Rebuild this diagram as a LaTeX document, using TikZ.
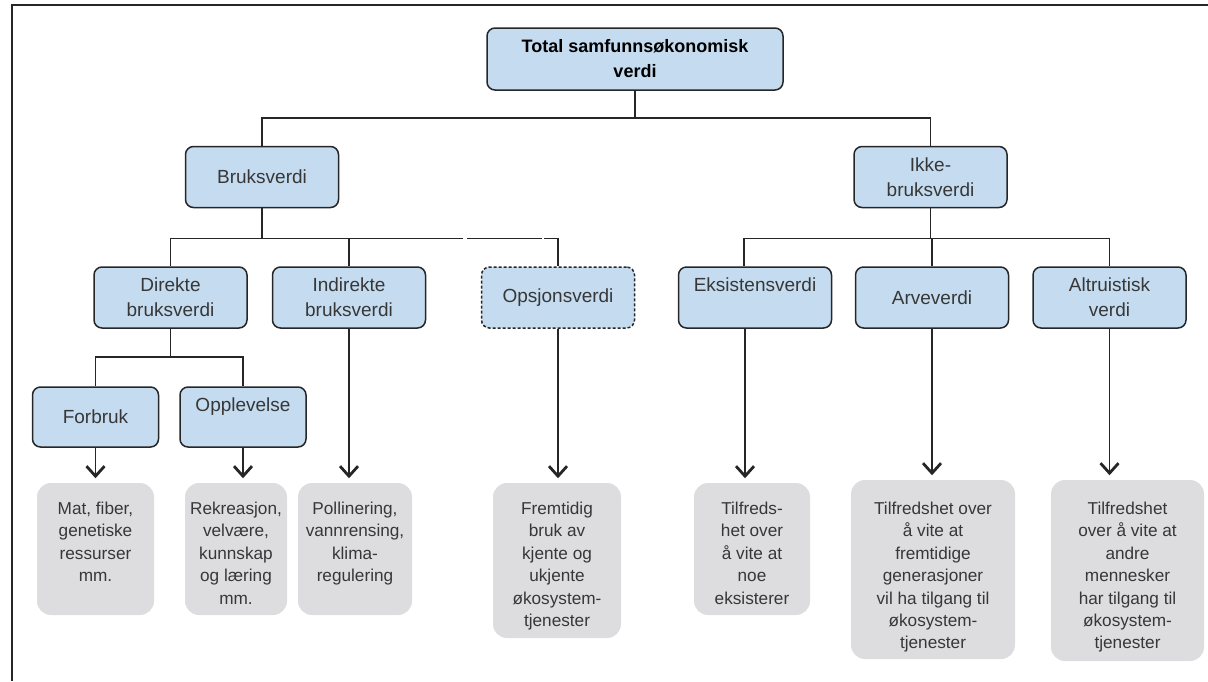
\documentclass[tikz,border=0pt]{standalone}
\usepackage{fontspec}
\setmainfont{Liberation Sans}
\usepackage{tikz}
\usetikzlibrary{arrows.meta,positioning}
\definecolor{valueblue}{RGB}{197,220,240}
\definecolor{examplegrey}{RGB}{221,221,223}
\definecolor{linegrey}{RGB}{38,38,38}
\definecolor{textgrey}{RGB}{55,55,55}

\begin{document}
\begin{tikzpicture}[x=0.5pt,y=-0.5pt,line width=0.75pt,
                    >={Straight Barb[length=5pt,width=9pt,line width=1.4pt]}]
  \tikzstyle{value}=[draw=linegrey,line width=0.75pt,fill=valueblue,rounded corners=4pt,
                     align=center,text=textgrey,font=\fontsize{9.5}{12.5}\selectfont,
                     minimum width=76.5pt,minimum height=30.5pt,inner sep=2pt]
  \tikzstyle{small value}=[value,minimum width=63pt,minimum height=30pt]
  \tikzstyle{example}=[fill=examplegrey,rounded corners=7pt,inner sep=0pt]
  \tikzstyle{example text}=[align=center,inner sep=0pt,text=textgrey,
                            font=\fontsize{8.6}{11.2}\selectfont]
  \tikzstyle{link}=[draw=linegrey]
  \tikzstyle{flow}=[link,->,shorten >=2pt]

  \useasboundingbox (0,0) rectangle (1208,681);
  \draw[linegrey,line width=1pt] (12,681) -- (12,5) -- (1208,5);

  \node[value,minimum width=148pt,minimum height=31pt,text=black,
        font=\fontsize{9}{12.5}\selectfont\bfseries] (total) at (635,59) {Total samfunnsøkonomisk\\verdi};
  \node[value] (bruks)     at (262,177)    {Bruksverdi};
  \node[value] (ikke)      at (930.5,177)  {Ikke-\\bruksverdi};
  \node[value] (direkte)   at (170.5,297.5) {Direkte\\bruksverdi};
  \node[value] (indirekte) at (349,297.5)   {Indirekte\\bruksverdi};
  \node[value,dash pattern=on 1.5pt off 1pt] (opsjon) at (558,297.5) {Opsjonsverdi};
  \node[value] (eks)       at (755,297.5)   {Eksistensverdi\\\mbox{}};
  \node[value] (arve)      at (932,297.5)   {Arveverdi};
  \node[value] (altru)     at (1109.5,297.5) {Altruistisk\\verdi};
  \node[small value] (forbruk) at (95.5,417) {Forbruk};
  \node[small value] (opplev)  at (243,417)  {Opplevelse\\\mbox{}};

  \node[example,minimum width=58.5pt,minimum height=66pt]   (mat)  at (95.5,549)   {};
  \node[example,minimum width=51pt,minimum height=66pt]     (rek)  at (236,549)    {};
  \node[example,minimum width=57pt,minimum height=66pt]     (poll) at (355,549)    {};
  \node[example,minimum width=64pt,minimum height=77.5pt]   (frem) at (557,560.5)  {};
  \node[example,minimum width=58pt,minimum height=66pt]     (tilf) at (752,549)    {};
  \node[example,minimum width=82pt,minimum height=89.5pt]   (arvg) at (933,569.5)  {};
  \node[example,minimum width=76.5pt,minimum height=90.5pt] (altg) at (1127.5,570.5) {};

  \node[example text,below=9.5pt of mat.north]  (matT)  {Mat, fiber,\\genetiske\\ressurser\\mm.};
  \node[example text,below=9.5pt of rek.north]  (rekT)  {Rekreasjon,\\velvære,\\kunnskap\\og læring\\mm.};
  \node[example text,below=9.5pt of poll.north] (pollT) {Pollinering,\\vannrensing,\\klima-\\regulering};
  \node[example text,below=9.5pt of frem.north] (fremT) {Fremtidig\\bruk av\\kjente og\\ukjente\\økosystem-\\tjenester};
  \node[example text,below=9.5pt of tilf.north] (tilfT) {Tilfreds-\\het over\\å vite at\\noe\\eksisterer};
  \node[example text,below=11pt of arvg.north]  (arvgT) {Tilfredshet over\\å vite at\\fremtidige\\generasjoner\\vil ha tilgang til\\økosystem-\\tjenester};
  \node[example text,below=11pt of altg.north]  (altgT) {Tilfredshet\\over å vite at\\andre\\mennesker\\har tilgang til\\økosystem-\\tjenester};

  \draw[link] (total.south) -- ++(0,27) -| (bruks.north)
              (total.south) -- ++(0,27) -| (ikke.north);
  \draw[link] (bruks.south) -- ++(0,30) -| (direkte.north)
              (bruks.south) -- ++(0,30) -| (indirekte.north);
  \draw[link,dash pattern=on 115.5pt off 2pt on 37.5pt off 1pt on 60pt off 1pt]
              (bruks.south) -- ++(0,30) -| (opsjon.north);
  \draw[link] (ikke.south) -- ++(0,30) -| ([xshift=-5.5pt]eks.north)
              (ikke.south) -- ++(0,30) -| (arve.north)
              (ikke.south) -- ++(0,30) -| (altru.north);
  \draw[link] (direkte.south) -- ++(0,28) -| (forbruk.north)
              (direkte.south) -- ++(0,28) -| (opplev.north);

  \draw[flow] (forbruk.south) -- (forbruk.south |- mat.north);
  \draw[flow] (opplev.south) -- (opplev.south |- rek.north);
  \draw[flow] (indirekte.south) -- (indirekte.south |- poll.north);
  \draw[flow] (opsjon.south) -- (opsjon.south |- frem.north);
  \draw[flow] ([xshift=-5pt]eks.south) -- ([xshift=-5pt]eks.south |- tilf.north);
  \draw[flow] (arve.south) -- (arve.south |- arvg.north);
  \draw[flow] (altru.south) -- (altru.south |- altg.north);
\end{tikzpicture}
\end{document}
